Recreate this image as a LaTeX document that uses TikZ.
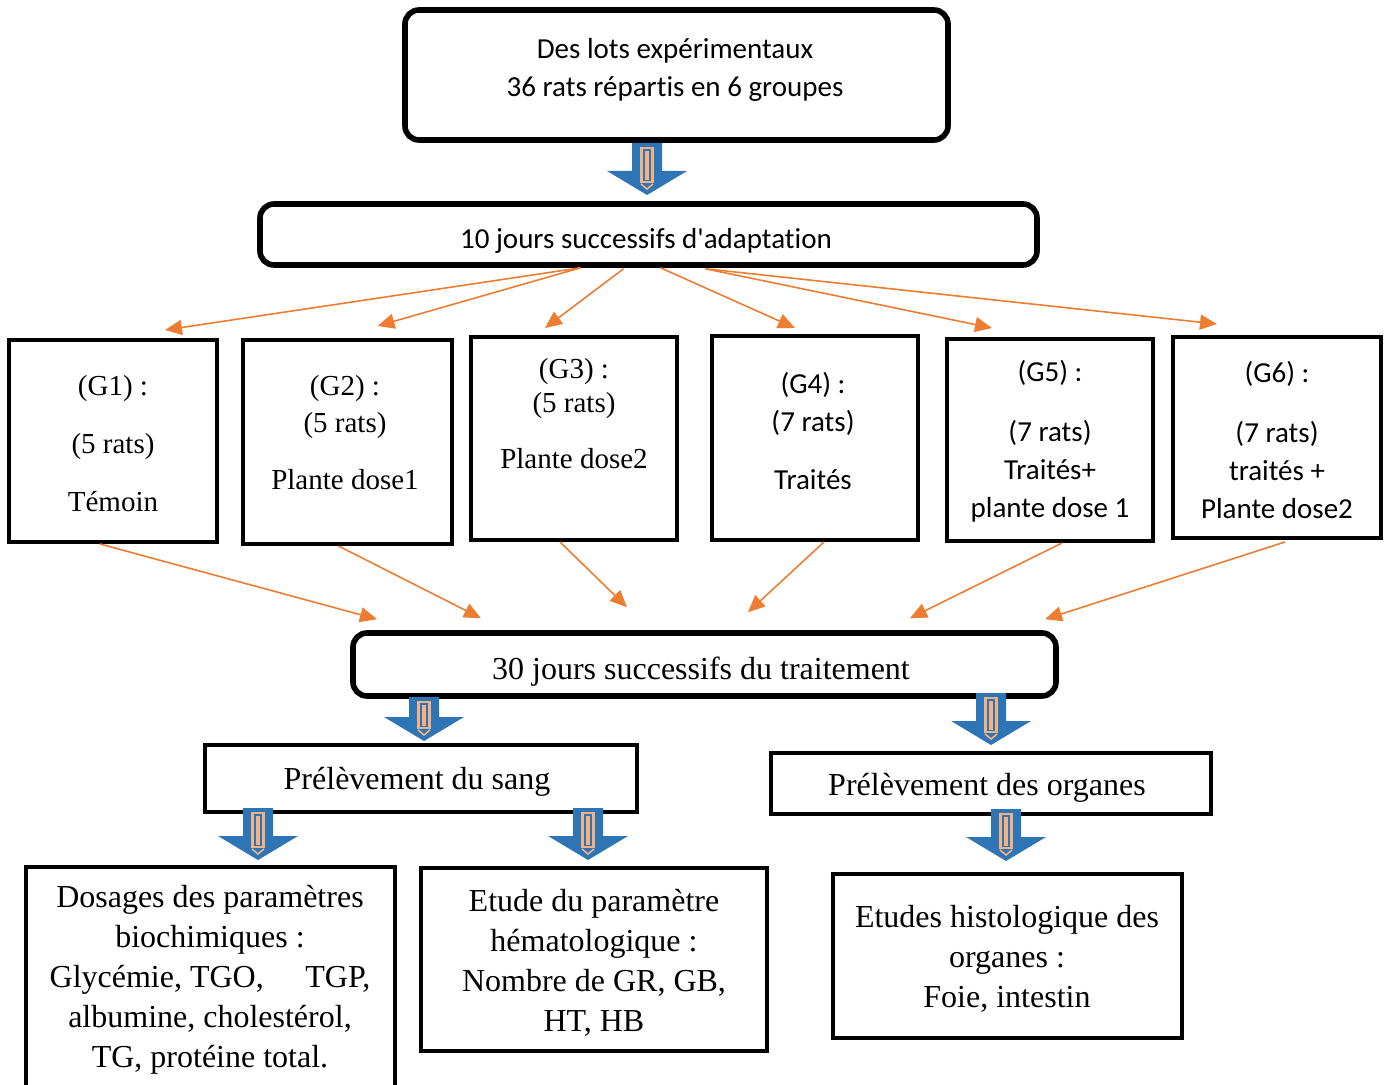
\documentclass[tikz,border=0pt]{standalone}
\usepackage{fontspec}
\setmainfont{Liberation Serif}
\newfontfamily\calibri[Ligatures={NoCommon}]{Carlito}
\usepackage{tikz}
\usetikzlibrary{arrows.meta,positioning,calc}
\definecolor{flowblue}{HTML}{2E75B6}
\definecolor{flowora}{HTML}{ED7D31}
\definecolor{peach}{HTML}{F4B183}

\begin{document}
\begin{tikzpicture}[x=0.5pt,y=-0.5pt,
  roundbox/.style={draw,line width=2.8pt,rounded corners=7pt,inner sep=0pt},
  groupbox/.style={draw,line width=2pt,inner sep=0pt},
  stepbox/.style={draw,line width=1.7pt,inner sep=0pt},
  txt/.style={align=center,inner sep=0pt,yshift=-1.5pt},
  sans/.style={font=\calibri\fontsize{14.5}{19}\selectfont},
  serif/.style={font=\fontsize{14.5}{17}\selectfont},
  big/.style={font=\fontsize{16}{20}\selectfont},
  ora/.style={flowora,line width=0.8pt,-{Triangle[length=8.5pt,width=7.5pt]}},
  pics/blockarrow/.style={code={
    \fill[flowblue] (-15,0) -- (15,0) -- (15,#1) -- (40,#1) -- (0,#1+24) -- (-40,#1) -- (-15,#1) -- cycle;
    \draw[peach,line width=1.1pt] (-5.5,5) -- (-5.5,#1+11) -- (5.5,#1+11) -- (5.5,5) -- cycle;
    \fill[peach] (-1.6,8) rectangle (1.6,#1+9);
    \draw[peach,line width=0.8pt] (-6,#1+13) -- (0,#1+18) -- (6,#1+13);
  }}]
  \useasboundingbox (0,0) rectangle (1387,1085);
  \clip (0,0) rectangle (1387,1085);

  % boxes
  \node[roundbox,minimum width=271.5pt,minimum height=65pt] (lots) at (676.5,75) {};
  \node[roundbox,minimum width=388.5pt,minimum height=30.5pt] (adapt) at (648.5,234.5) {};
  \node[groupbox,minimum width=104pt,minimum height=101pt] (g1) at (113,441) {};
  \node[groupbox,minimum width=104.5pt,minimum height=102pt] (g2) at (347.5,442) {};
  \node[groupbox,minimum width=103pt,minimum height=101.5pt] (g3) at (574,438.5) {};
  \node[groupbox,minimum width=103pt,minimum height=102pt] (g4) at (815,438) {};
  \node[groupbox,minimum width=103pt,minimum height=101pt] (g5) at (1050,440) {};
  \node[groupbox,minimum width=104pt,minimum height=100.5pt] (g6) at (1277,437.5) {};
  \node[roundbox,minimum width=351.5pt,minimum height=31.5pt] (trait) at (704.5,664.5) {};
  \node[stepbox,minimum width=216pt,minimum height=33.5pt] (sang) at (421,778.5) {};
  \node[stepbox,minimum width=220pt,minimum height=30.5pt] (organes) at (991,783.5) {};
  \node[stepbox,minimum width=184.5pt,minimum height=116.5pt] (biochim) at (210.5,983.5) {};
  \node[stepbox,minimum width=173pt,minimum height=91.5pt] (hemato) at (594,959.5) {};
  \node[stepbox,minimum width=174.5pt,minimum height=82pt] (histo) at (1007.5,956) {};

  % texts
  \node[txt,sans] (lotstxt) at (675,67) {Des lots expérimentaux\\36 rats répartis en 6 groupes};
  \node[txt,sans] (adapttxt) at (646,238) {10 jours successifs d\textquotesingle adaptation};
  \node[txt,serif] (g1txt) at (113,441) {(G1) :\\[12pt](5 rats)\\[12pt]Témoin};
  \node[txt,serif] (g2txt) at (345,430) {(G2) :\\[1.5pt](5 rats)\\[11.5pt]Plante dose1};
  \node[txt,serif] (g3txt) at (574,411) {(G3) :\\(5 rats)\\[11pt]Plante dose2};
  \node[txt,sans] (g4txt) at (813,428.5) {(G4) :\\(7 rats)\\[10pt]Traités};
  \node[txt,sans] (g5txt) at (1050,438.5) {(G5) :\\[11pt](7 rats)\\Traités+\\plante dose 1};
  \node[txt,sans] (g6txt) at (1277,437) {(G6) :\\[11pt](7 rats)\\traités +\\Plante dose2};
  \node[txt,font=\fontsize{16}{19}\selectfont] (traittxt) at (701,669) {30 jours successifs du traitement};
  \node[txt,big] (sangtxt) at (417,779) {Prélèvement du sang};
  \node[txt,big] (organestxt) at (987,785) {Prélèvement des organes};
  \node[txt,big] (biochimtxt) at (210,977) {Dosages des paramètres\\biochimiques :\\Glycémie, TGO,\hspace{1.3em}TGP,\\albumine, cholestérol,\\TG, protéine total.};
  \node[txt,big] (hematotxt) at (594,959.5) {Etude du paramètre\\hématologique :\\Nombre de GR, GB,\\HT, HB};
  \node[txt,big] (histotxt) at (1007,956) {Etudes histologique des\\organes :\\Foie, intestin};

  % orange connectors
  \draw[ora] ($(adapt.south)+(-68,0)$) -- ($(g1.north)+(52,-8)$);
  \draw[ora] ($(adapt.south)+(-68,0)$) -- ($(g2.north)+(30,-12)$);
  \draw[ora] ($(adapt.south)+(-25,1)$) -- ($(g3.north)+(-29,-7)$);
  \draw[ora] ($(adapt.south)+(12,0)$) -- ($(g4.north)+(-20,-6)$);
  \draw[ora] ($(adapt.south)+(57,1)$) -- ($(g5.north)+(-58,-9)$);
  \draw[ora] ($(adapt.south)+(57,1)$) -- ($(g6.north)+(-60,-11)$);
  \draw[ora] ($(g1.south)+(-13,0)$) -- ($(trait.north)+(-327.5,-11)$);
  \draw[ora] ($(g2.south)+(-9,0)$) -- ($(trait.north)+(-223.5,-12)$);
  \draw[ora] ($(g3.south)+(-14,0)$) -- ($(trait.north)+(-77.5,-23)$);
  \draw[ora] ($(g4.south)+(9,0)$) -- ($(trait.north)+(43.5,-18)$);
  \draw[ora] ($(g5.south)+(12,0)$) -- ($(trait.north)+(205.5,-12)$);
  \draw[ora] ($(g6.south)+(8,2)$) -- ($(trait.north)+(340.5,-11)$);

  % blue block arrows
  \pic at (647,143) {blockarrow=28};
  \pic at (424,697) {blockarrow=20};
  \pic at (991,693) {blockarrow=28};
  \pic at (258,808) {blockarrow=28};
  \pic at (588,808) {blockarrow=28};
  \pic at (1006,809) {blockarrow=28};
\end{tikzpicture}
\end{document}
